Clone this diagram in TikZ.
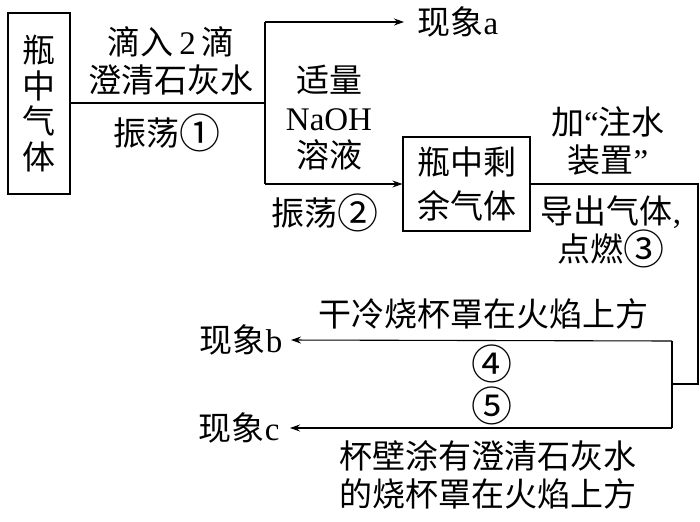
\documentclass[tikz,border=0pt]{standalone}
\usepackage{fontspec}
\setmainfont{Liberation Serif}
\newfontfamily\cjk{Noto Sans CJK SC}
\usetikzlibrary{arrows.meta}
\newcommand{\circnum}[1]{\raisebox{-3.5pt}{\fontsize{41}{41}\selectfont #1}}
\begin{document}
\begin{tikzpicture}[x=1pt,y=-1pt,
  line width=1.1pt,
  box/.style={draw, inner sep=0pt, align=center},
  lbl/.style={inner sep=0pt, align=center, font=\fontsize{33}{37.5}\selectfont\cjk},
  arr/.style={-{Stealth[length=10pt,width=7pt]}}]
\useasboundingbox (0,0) rectangle (700,521);
% boxes
\node[box, minimum width=62pt, minimum height=181pt, font=\fontsize{33}{35.5}\selectfont\cjk] (box1) at (39,103.5) {瓶\\中\\气\\体};
\node[box, minimum width=127pt, minimum height=94pt, font=\fontsize{33}{44}\selectfont\cjk] (box2) at (466.5,184) {瓶中剩\\余气体};
% outcomes
\node[lbl, anchor=west] (phA) at (417,22) {现象{\rmfamily a}};
\node[lbl, anchor=east] (phB) at (283,340) {现象{\rmfamily b}};
\node[lbl, anchor=east] (phC) at (280,428) {现象{\rmfamily c}};
% junction coordinates
\coordinate (j1) at (265,103);
\coordinate (jt) at (265,22);
\coordinate (jb) at (265,184);
\coordinate (r1) at (698,184);
\coordinate (r2) at (698,384);
\coordinate (r3) at (672,384);
\coordinate (b4) at (672,341);
\coordinate (b5) at (672,428);
% connectors
\draw (box1.east |- j1) -- (j1);
\draw (jt) -- (jb);
\draw[arr, shorten >=13pt] (jt) -- (phA.west);
\draw[arr] (jb) -- (box2.west);
\draw (box2.east) -- (r1) -- (r2) -- (r3);
\draw (b4) -- (b5);
\draw[arr, shorten >=8pt] (b4) -- (phB.east);
\draw[arr, shorten >=10pt] (b5) -- (phC.east);
% labels
\node[lbl] (l1) at (171,61) {滴入\,{\rmfamily 2}\,滴\\澄清石灰水};
\node[lbl] (l2) at (167,133) {振荡\circnum{①}};
\node[lbl] (l3) at (329,118) {适量\\{\rmfamily NaOH}\\溶液};
\node[lbl] (l4) at (325,213) {振荡\circnum{②}};
\node[lbl] (l5) at (608,141) {加{\rmfamily “}注水\\装置{\rmfamily ”}};
\node[lbl] (l6) at (611,232) {导出气体{\rmfamily ,}\\点燃\circnum{③}};
\node[lbl] (l7) at (483,314) {干冷烧杯罩在火焰上方};
\node[lbl] (l8) at (492,364) {\circnum{④}};
\node[lbl] (l9) at (492,406) {\circnum{⑤}};
\node[lbl] (l10) at (488,475) {杯壁涂有澄清石灰水\\的烧杯罩在火焰上方};
\end{tikzpicture}
\end{document}
